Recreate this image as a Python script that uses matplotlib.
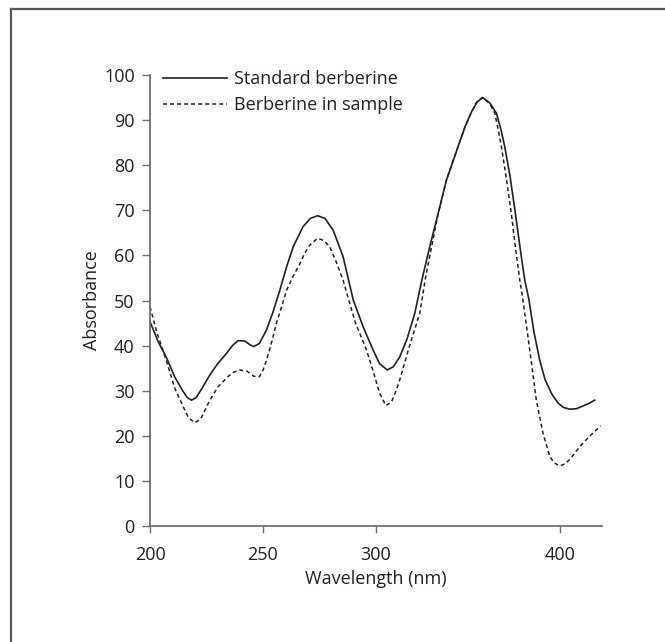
import numpy as np
import matplotlib
matplotlib.use("Agg")
import matplotlib.pyplot as plt
from matplotlib.lines import Line2D

plt.rcParams["font.family"] = ["Open Sans", "DejaVu Sans"]

# ---------------------------------------------------------------------------
# data (wavelength nm, absorbance)
# ---------------------------------------------------------------------------
std_wl = [200, 203.5, 207.4, 211, 214.7, 216.5, 218.4, 220.5, 223, 226.5,
          230, 233.9, 236.5, 239, 242, 244.5, 246, 248.5, 251.6, 254.5,
          257.5, 260.5, 263.4, 267.8, 271, 274.2, 277.5, 281.1, 285.5, 290,
          294.5, 298.8, 302, 306.2, 309.5, 313, 317, 321.2, 325, 329.3,
          333.9, 338.4, 344.7, 348.5, 352, 355, 358, 362, 365.6, 368,
          370.1, 373, 375.9, 378.5, 381, 383.3, 386, 389.1, 392, 395.5,
          399, 402, 405.4, 409, 412, 416, 419]
std_abs = [45.3, 41.0, 37.2, 33.0, 29.8, 28.5, 27.9, 28.5, 30.5, 33.5,
           36.0, 38.3, 40.0, 41.1, 41.0, 40.1, 39.8, 40.5, 43.5, 47.5,
           52.3, 57.5, 61.9, 66.4, 68.2, 68.8, 68.2, 65.6, 59.7, 50.1,
           44.0, 39.0, 36.0, 34.6, 35.3, 37.5, 41.5, 47.2, 54.5, 61.9,
           69.3, 76.7, 84.1, 88.5, 91.8, 94.0, 95.0, 93.8, 91.5, 88.0,
           84.1, 77.5, 69.3, 61.5, 54.5, 50.1, 43.0, 36.8, 32.5, 29.4,
           27.3, 26.3, 25.9, 26.0, 26.5, 27.2, 27.9]

smp_wl = [200, 203, 207.4, 211, 214.7, 217, 219.9, 222.5, 226.5, 230,
          233.9, 236.5, 239.8, 243, 246, 248.4, 250, 251.6, 254, 256,
          258.5, 260.5, 263.5, 266.4, 268.5, 270.8, 274.2, 277, 279.6, 282.5,
          285.5, 287.5, 291, 295.9, 299, 302, 305.4, 308.5, 311, 313,
          318, 323.9, 327, 330.3, 333.9, 338.4, 344.7, 348.5, 352, 355,
          358, 362, 364.7, 366.5, 368.3, 371, 373.7, 376, 378.3, 380,
          383.7, 387.3, 390.9, 394.6, 397, 400, 403, 406, 410.9, 416,
          422.3]
smp_abs = [48.6, 43.0, 36.4, 30.5, 26.5, 24.0, 22.9, 23.8, 27.9, 30.8,
           32.8, 34.0, 34.6, 34.3, 33.2, 33.1, 34.5, 36.8, 41.0, 45.0,
           49.0, 52.3, 55.5, 58.2, 60.5, 62.3, 63.8, 63.3, 61.9, 58.5,
           54.5, 51.0, 45.0, 39.0, 34.0, 29.5, 26.7, 27.5, 30.0, 32.4,
           39.5, 47.2, 55.0, 61.9, 69.3, 76.7, 84.1, 88.5, 91.8, 94.0,
           95.0, 93.6, 91.5, 88.0, 84.1, 77.0, 69.3, 61.5, 54.5, 50.1,
           39.0, 27.9, 20.6, 15.4, 14.0, 13.3, 13.8, 15.0, 17.6, 19.8,
           22.2]

x_ticks = [200, 250, 300, 400]
y_ticks = list(range(0, 101, 10))

# the printed axis is compressed above 300 nm
_src = [0, 200, 300, 1000]
_dst = [-452, 0, 226, 1514]

def fwd(x):
    return np.interp(x, _src, _dst)

def inv(v):
    return np.interp(v, _dst, _src)

W, H = 665, 642
fig = plt.figure(figsize=(W / 100, H / 100), dpi=100)
ax = fig.add_axes([150 / W, 116 / H, 452 / W, 451 / H])

ink = "#231f20"
grey = "#6d6e71"
fs = 13

ax.set_xscale("function", functions=(fwd, inv))
ax.plot(std_wl, std_abs, color=ink, lw=1.2, label="Standard berberine",
        clip_on=False, solid_joinstyle="round")
ax.plot(smp_wl, smp_abs, color=ink, lw=1.1, dashes=(2.6, 2.0),
        label="Berberine in sample", clip_on=False)

ax.set_xlim(200, 423)
ax.set_ylim(0, 100)
ax.set_xticks(x_ticks)
ax.set_xticklabels([str(t) for t in x_ticks])
ax.set_yticks(y_ticks)
ax.minorticks_off()

for s in ["top", "right"]:
    ax.spines[s].set_visible(False)
for s in ["left", "bottom"]:
    ax.spines[s].set_color(grey)
    ax.spines[s].set_linewidth(1.3)

ax.tick_params(axis="x", direction="out", length=5, width=1, color=grey,
               pad=9.5, labelsize=fs, labelcolor=ink)
ax.tick_params(axis="y", direction="out", length=6, width=1, color=grey,
               pad=5, labelsize=fs, labelcolor=ink)

ax.set_xlabel("Wavelength (nm)", fontsize=fs, color=ink, labelpad=4.5)
ax.set_ylabel("Absorbance", fontsize=fs, color=ink, labelpad=2)

ax.legend(loc="upper left", bbox_to_anchor=(0.029, 1.011), frameon=False,
          fontsize=fs, handlelength=3.55, handletextpad=0.39,
          borderpad=0, borderaxespad=0, labelspacing=0.45,
          labelcolor=ink)

# partial frame around the figure panel
fx = 11 / W
fy = 1 - 9 / H
fig.add_artist(Line2D([fx, fx], [0, fy], transform=fig.transFigure,
                      color="#58595b", lw=1.6))
fig.add_artist(Line2D([fx, 1], [fy, fy], transform=fig.transFigure,
                      color="#58595b", lw=1.6))

fig.savefig("out.png", dpi=100)
